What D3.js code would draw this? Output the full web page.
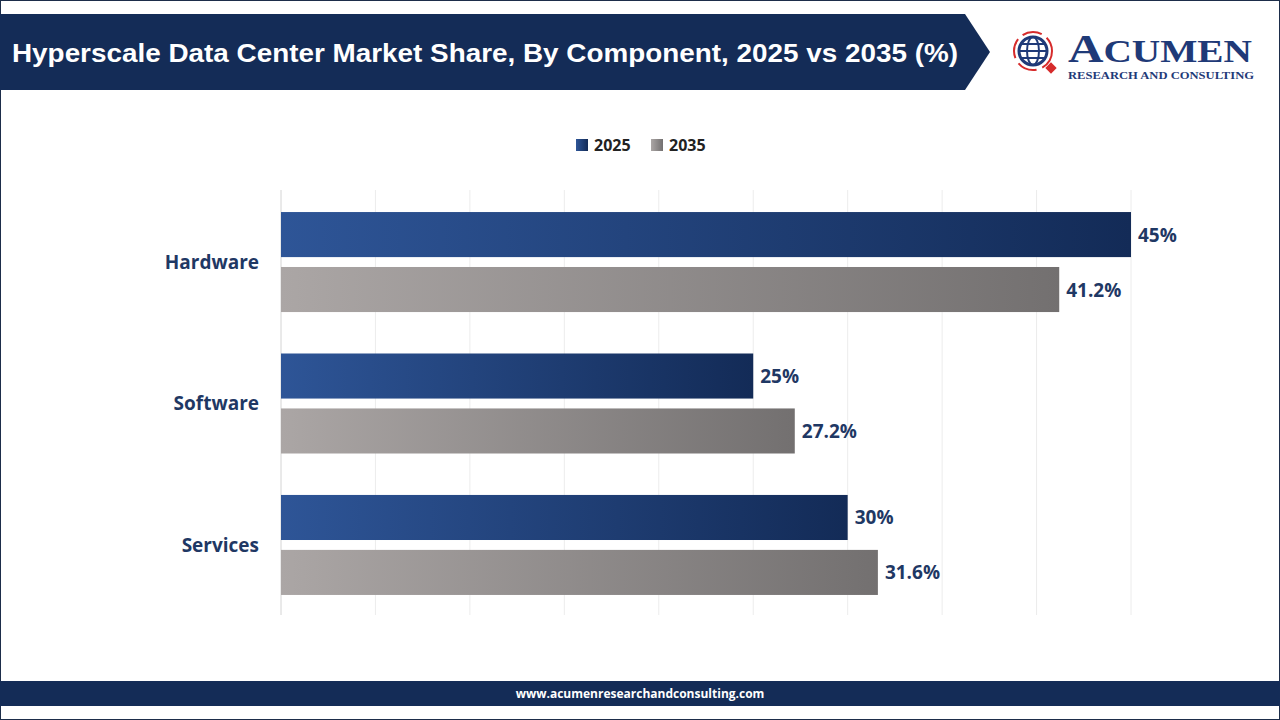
<!DOCTYPE html>
<html><head><meta charset="utf-8">
<script src="https://cdn.jsdelivr.net/npm/d3@7"></script>
<style>body{margin:0;background:#fff}svg{display:block;font-family:"Open Sans",Roboto,sans-serif}</style>
</head><body>
<svg id="chart" width="1280" height="720"></svg>
<script>
const categories = ["Hardware", "Software", "Services"];
const years = ["2025", "2035"];
const values2025 = [45, 25, 30];
const values2035 = [41.2, 27.2, 31.6];
const labels2025 = ["45%", "25%", "30%"];
const labels2035 = ["41.2%", "27.2%", "31.6%"];

const svg = d3.select("#chart");
const navy = "#142c57";
const defs = svg.append("defs");
function grad(id, a, b) {
    let g = defs.append("linearGradient").attr("id", id);
    g.append("stop").attr("offset", "0%").attr("stop-color", a);
    g.append("stop").attr("offset", "100%").attr("stop-color", b);
}
grad("gBlue", "#2e5597", "#132b57");
grad("gGrey", "#aba6a5", "#737070");

svg.append("rect").attr("x", 0.5).attr("y", 0.5).attr("width", 1279).attr("height", 719)
    .attr("fill", "#fff").attr("stroke", "#1d2d4a");

// header banner
svg.append("path").attr("d", "M0,14 L965,14 L990,52 L965,90 L0,90 Z").attr("fill", navy);
svg.append("text").attr("x", 12).attr("y", 62).attr("fill", "#fff")
    .attr("font-family", "Liberation Sans, Arial, sans-serif")
    .attr("font-size", 26).attr("font-weight", "bold")
    .attr("textLength", 946).attr("lengthAdjust", "spacingAndGlyphs")
    .text("Hyperscale Data Center Market Share, By Component, 2025 vs 2035 (%)");

// logo
const logo = svg.append("g").attr("transform", "translate(1033,51)");
logo.append("circle").attr("r", 19).attr("fill", "none").attr("stroke", "#d62b2b").attr("stroke-width", 2).attr("stroke-dasharray", "20 6");
logo.append("circle").attr("r", 14).attr("fill", "none").attr("stroke", "#1f3a78").attr("stroke-width", 3);
logo.append("ellipse").attr("rx", 6).attr("ry", 14).attr("fill", "none").attr("stroke", "#1f3a78").attr("stroke-width", 2);
logo.append("line").attr("x1", -14).attr("x2", 14).attr("stroke", "#1f3a78").attr("stroke-width", 2);
logo.append("line").attr("x1", -12).attr("x2", 12).attr("y1", -7).attr("y2", -7).attr("stroke", "#1f3a78").attr("stroke-width", 2);
logo.append("line").attr("x1", -12).attr("x2", 12).attr("y1", 7).attr("y2", 7).attr("stroke", "#1f3a78").attr("stroke-width", 2);
logo.append("rect").attr("x", 14).attr("y", 13).attr("width", 8).attr("height", 8).attr("fill", "#d62b2b").attr("transform", "rotate(45 18 17)");
svg.append("text").attr("x", 1068).attr("y", 62).attr("fill", "#1f3a78")
    .attr("font-family", "Liberation Serif, serif").attr("font-weight", "bold").attr("font-size", 40)
    .attr("textLength", 184).attr("lengthAdjust", "spacingAndGlyphs")
    .text("A").append("tspan").attr("font-size", 32).text("CUMEN");
svg.append("text").attr("x", 1068).attr("y", 79).attr("fill", "#1f3a78")
    .attr("font-family", "Liberation Serif, serif").attr("font-weight", "bold").attr("font-size", 10.5)
    .attr("textLength", 186).attr("lengthAdjust", "spacingAndGlyphs")
    .text("RESEARCH AND CONSULTING");

// legend
const legend = svg.append("g").attr("transform", "translate(576,139)");
years.forEach((y, i) => {
    let lg = legend.append("g").attr("transform", `translate(${i * 75},0)`);
    lg.append("rect").attr("width", 12).attr("height", 12).attr("fill", i ? "url(#gGrey)" : "url(#gBlue)");
    lg.append("text").attr("x", 18).attr("y", 12).attr("font-size", 16).attr("font-weight", "bold")
        .attr("fill", "#222").text(y);
});

// scales
const x = d3.scaleLinear().domain([0, 45]).range([281, 1131]);
const y0 = d3.scaleBand().domain(categories).range([191.25, 615.75]).paddingInner(0.293).paddingOuter(0.147);
const y1 = d3.scaleBand().domain(years).range([0, y0.bandwidth()]).paddingInner(0.18);

svg.append("g").selectAll("line").data(d3.range(0, 46, 5)).join("line")
    .attr("x1", d => x(d)).attr("x2", d => x(d)).attr("y1", 190).attr("y2", 615)
    .attr("stroke", d => d === 0 ? "#d4d4d4" : "#ececec");

categories.forEach((c, i) => {
    let g = svg.append("g").attr("transform", `translate(0,${y0(c)})`);
    [[values2025, labels2025, "url(#gBlue)"], [values2035, labels2035, "url(#gGrey)"]].forEach((s, j) => {
        let yy = y1(years[j]);
        g.append("rect").attr("x", x(0)).attr("y", yy).attr("width", x(s[0][i]) - x(0))
            .attr("height", y1.bandwidth()).attr("fill", s[2]);
        g.append("text").attr("x", x(s[0][i]) + 7).attr("y", yy + y1.bandwidth() / 2 + 7)
            .attr("font-size", 19).attr("font-weight", "bold").attr("fill", "#1f3864").text(s[1][i]);
    });
    g.append("text").attr("x", 259).attr("y", y0.bandwidth() / 2 + 7).attr("text-anchor", "end")
        .attr("font-size", 19).attr("font-weight", "bold").attr("fill", "#1f3864").text(c);
});

// footer
svg.append("rect").attr("x", 0).attr("y", 681).attr("width", 1280).attr("height", 25).attr("fill", navy);
svg.append("text").attr("x", 640).attr("y", 698).attr("text-anchor", "middle").attr("fill", "#fff")
    .attr("font-size", 12).attr("font-weight", "bold").text("www.acumenresearchandconsulting.com");
</script>
</body></html>
